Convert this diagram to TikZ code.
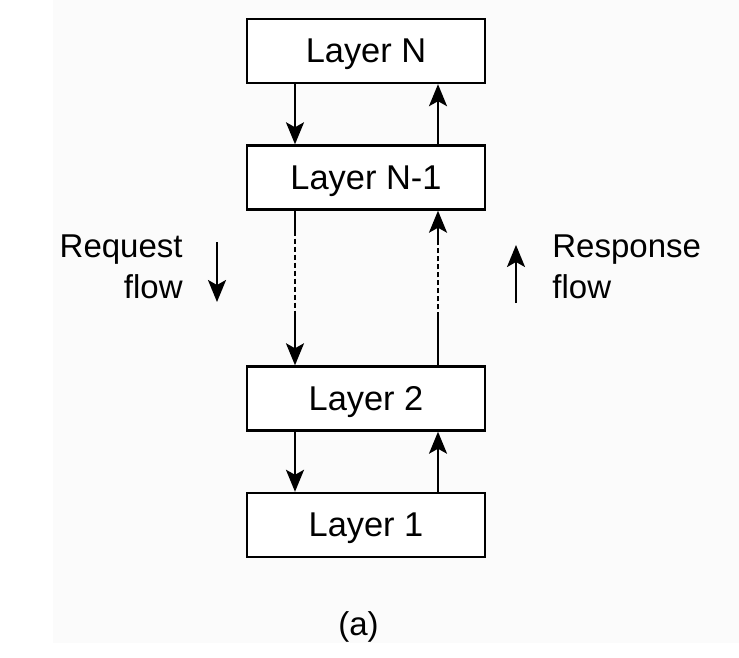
\documentclass[tikz,border=0pt]{standalone}
\usepackage{fontspec}
\setmainfont{Liberation Sans}
\usetikzlibrary{arrows.meta}
\definecolor{panel}{RGB}{251,251,251}
\tikzset{
	layer/.style={draw, line width=1.2pt, fill=white, minimum width=119pt,
			minimum height=32pt, inner sep=0pt, text depth=0pt,
			font=\fontsize{17.2}{20}\selectfont},
	flowlabel/.style={inner sep=0pt, font=\fontsize{16.5}{20}\selectfont},
	link/.style={line width=1.1pt, -{Stealth[length=11pt, width=9pt, inset=2.5pt]}},
	downgap/.style={dash pattern=on 12.5pt off 1.5pt on 2.5pt off 1.5pt on 2.5pt
			off 1.5pt on 2.5pt off 1.5pt on 2.5pt off 1.5pt on 2.5pt off 1.5pt on 2.5pt
			off 1.5pt on 2.5pt off 1.5pt on 2.5pt off 1.5pt on 2.5pt
			off 1.5pt on 40pt},
	upgap/.style={dash pattern=on 26.5pt off 1.5pt on 2.5pt off 1.5pt on 2.5pt
			off 1.5pt on 2.5pt off 1.5pt on 2.5pt off 1.5pt on 2.5pt off 1.5pt on 2.5pt
			off 1.5pt on 2.5pt off 1.5pt on 2.5pt
			off 1.5pt on 40pt}
}
\begin{document}
\begin{tikzpicture}[x=0.5pt, y=-0.5pt]
		\fill[white] (0,0) rectangle (739,658);
		\fill[panel] (53,0) rectangle (739,643);
		% the stack
		\node[layer] (layN) at (366,51) {Layer N};
		\node[layer] (layN1) at (366,177.5) {Layer N-1};
		\node[layer] (lay2) at (366,398.5) {Layer 2};
		\node[layer] (lay1) at (366,525) {Layer 1};
		\coordinate (down) at (295,0);
		\coordinate (up) at (438,0);
		\draw[link] (layN.south -| down) -- (layN1.north -| down);
		\draw[link] (layN1.north -| up) -- (layN.south -| up);
		\draw[link, downgap] (layN1.south -| down) -- (lay2.north -| down);
		\draw[link, upgap] (lay2.north -| up) -- (layN1.south -| up);
		\draw[link] (lay2.south -| down) -- (lay1.north -| down);
		\draw[link] (lay1.north -| up) -- (lay2.south -| up);
		% side labels
		\node[flowlabel, anchor=base east] (req) at (183,257) {Request};
		\node[flowlabel, anchor=base east] (reqflow) at (183,298) {flow};
		\coordinate (reqtop) at (217,242);
		\coordinate (reqbot) at (217,302);
		\draw[link] (reqtop) -- (reqbot);
		\node[flowlabel, anchor=base west] (resp) at (552,257) {Response};
		\node[flowlabel, anchor=base west] (respflow) at (552,298) {flow};
		\coordinate (respbot) at (516,303);
		\coordinate (resptop) at (516,245);
		\draw[link] (respbot) -- (resptop);
		\node[flowlabel, anchor=base] (caption) at (358.5,635) {(a)};
	\end{tikzpicture}
\end{document}
